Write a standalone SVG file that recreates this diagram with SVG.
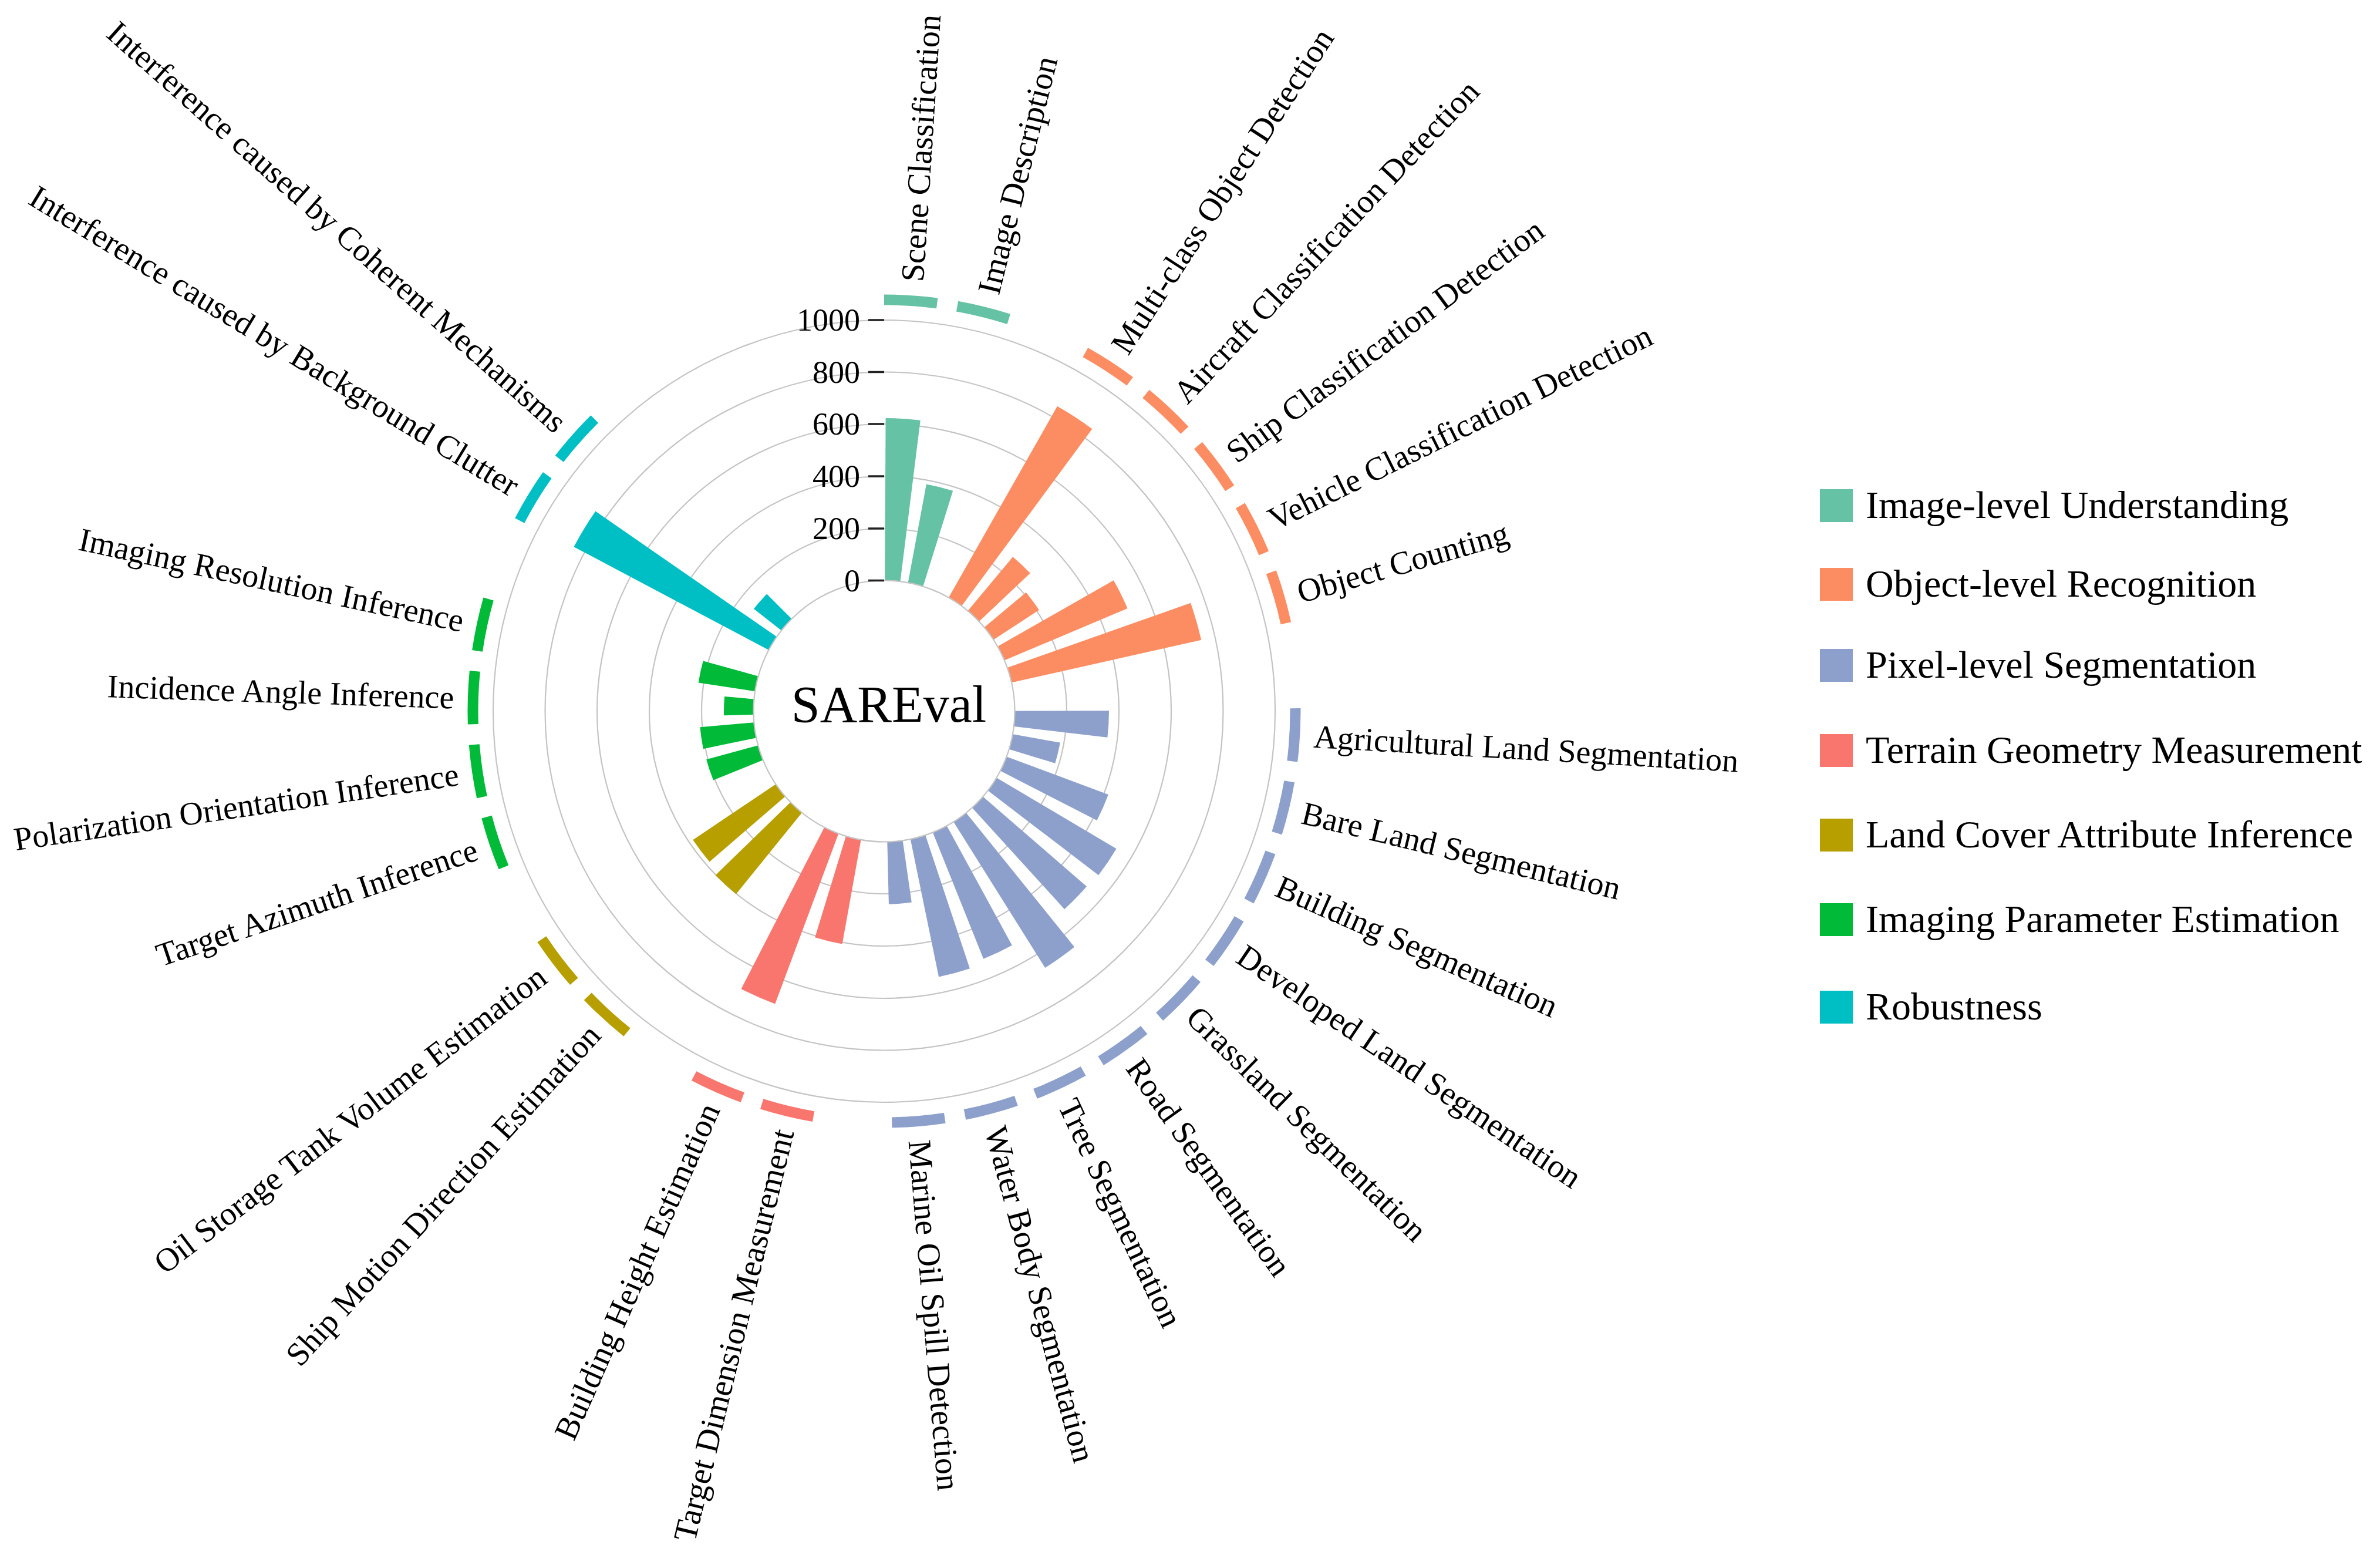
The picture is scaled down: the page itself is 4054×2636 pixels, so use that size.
<svg xmlns="http://www.w3.org/2000/svg" width="4054" height="2636" viewBox="0 0 4054 2636">
<style>
text { font-family: "Liberation Serif", "Times New Roman", serif; fill: #000; }
.lbl { font-size: 56px; }
.lbl.r { text-anchor: start; }
.lbl.l { text-anchor: end; }
.ax { font-size: 54px; text-anchor: end; }
.leg { font-size: 66px; }
.title { font-size: 88px; text-anchor: middle; }
.grid { fill: none; stroke: #c4c4c4; stroke-width: 2.2; }
.hub { fill: #ffffff; stroke: #c4c4c4; stroke-width: 2.2; }
.tick { stroke: #222; stroke-width: 3.5; }
.seg { fill: none; stroke-width: 18; }
.c0 { fill: #66c2a5; } .s0 { stroke: #66c2a5; }
.c1 { fill: #fc8d62; } .s1 { stroke: #fc8d62; }
.c2 { fill: #8da0cb; } .s2 { stroke: #8da0cb; }
.c3 { fill: #f8766d; } .s3 { stroke: #f8766d; }
.c4 { fill: #b79f00; } .s4 { stroke: #b79f00; }
.c5 { fill: #00ba38; } .s5 { stroke: #00ba38; }
.c6 { fill: #00bfc4; } .s6 { stroke: #00bfc4; }
</style>
<defs>
<path id="wedge" d="M0 0 L-0.059306 -0.99824 A1 1 0 0 1 0.059306 -0.99824 Z"/>
<path id="arcseg" d="M-45.20 -699.04 A700.5 700.5 0 0 1 45.20 -699.04"/>
</defs>
<rect width="4054" height="2636" fill="#ffffff"/>

<g id="grid">
<circle class="grid" cx="1506" cy="1211" r="311"/>
<circle class="grid" cx="1506" cy="1211" r="400"/>
<circle class="grid" cx="1506" cy="1211" r="489"/>
<circle class="grid" cx="1506" cy="1211" r="577.5"/>
<circle class="grid" cx="1506" cy="1211" r="666"/>
</g>

<g id="bars">
<use href="#wedge" class="c0" transform="translate(1506 1211) rotate(3.7) scale(499.1)"/>
<use href="#wedge" class="c0" transform="translate(1506 1211) rotate(13.94) scale(393.2)"/>
<use href="#wedge" class="c1" transform="translate(1506 1211) rotate(33.0) scale(597.1)"/>
<use href="#wedge" class="c1" transform="translate(1506 1211) rotate(43.24) scale(342.2)"/>
<use href="#wedge" class="c1" transform="translate(1506 1211) rotate(53.48) scale(315.1)"/>
<use href="#wedge" class="c1" transform="translate(1506 1211) rotate(63.72) scale(449.9)"/>
<use href="#wedge" class="c1" transform="translate(1506 1211) rotate(73.96) scale(553.6)"/>
<use href="#wedge" class="c2" transform="translate(1506 1211) rotate(93.3) scale(383.0)"/>
<use href="#wedge" class="c2" transform="translate(1506 1211) rotate(103.54) scale(304.5)"/>
<use href="#wedge" class="c2" transform="translate(1506 1211) rotate(113.78) scale(407.4)"/>
<use href="#wedge" class="c2" transform="translate(1506 1211) rotate(124.02) scale(459.7)"/>
<use href="#wedge" class="c2" transform="translate(1506 1211) rotate(134.26) scale(456.1)"/>
<use href="#wedge" class="c2" transform="translate(1506 1211) rotate(144.5) scale(516.0)"/>
<use href="#wedge" class="c2" transform="translate(1506 1211) rotate(154.74) scale(454.3)"/>
<use href="#wedge" class="c2" transform="translate(1506 1211) rotate(164.98) scale(461.9)"/>
<use href="#wedge" class="c2" transform="translate(1506 1211) rotate(175.22) scale(328.9)"/>
<use href="#wedge" class="c3" transform="translate(1506 1211) rotate(193.6) scale(402.9)"/>
<use href="#wedge" class="c3" transform="translate(1506 1211) rotate(203.84) scale(531.9)"/>
<use href="#wedge" class="c4" transform="translate(1506 1211) rotate(222.4) scale(400.7)"/>
<use href="#wedge" class="c4" transform="translate(1506 1211) rotate(232.64) scale(392.7)"/>
<use href="#wedge" class="c5" transform="translate(1506 1211) rotate(251.4) scale(313.8)"/>
<use href="#wedge" class="c5" transform="translate(1506 1211) rotate(261.64) scale(314.7)"/>
<use href="#wedge" class="c5" transform="translate(1506 1211) rotate(271.88) scale(273.0)"/>
<use href="#wedge" class="c5" transform="translate(1506 1211) rotate(282.12) scale(320.0)"/>
<use href="#wedge" class="c6" transform="translate(1506 1211) rotate(301.3) scale(598.0)"/>
<use href="#wedge" class="c6" transform="translate(1506 1211) rotate(311.54) scale(282.3)"/>
</g>

<g id="hub">
<circle class="hub" cx="1506" cy="1211" r="222.5"/>
<text class="title" x="1514" y="1229">SAREval</text>
</g>

<g id="axis">
<line class="tick" x1="1479" y1="988.5" x2="1506" y2="988.5"/>
<line class="tick" x1="1479" y1="900" x2="1506" y2="900"/>
<line class="tick" x1="1479" y1="811" x2="1506" y2="811"/>
<line class="tick" x1="1479" y1="722" x2="1506" y2="722"/>
<line class="tick" x1="1479" y1="633.5" x2="1506" y2="633.5"/>
<line class="tick" x1="1479" y1="545" x2="1506" y2="545"/>
<text class="ax" x="1465" y="1006.5">0</text>
<text class="ax" x="1465" y="918">200</text>
<text class="ax" x="1465" y="829">400</text>
<text class="ax" x="1465" y="740">600</text>
<text class="ax" x="1465" y="651.5">800</text>
<text class="ax" x="1465" y="563">1000</text>
</g>

<g id="ring">
<use href="#arcseg" class="seg s0" transform="translate(1506 1211) rotate(3.7)"/>
<use href="#arcseg" class="seg s0" transform="translate(1506 1211) rotate(13.94)"/>
<use href="#arcseg" class="seg s1" transform="translate(1506 1211) rotate(33.0)"/>
<use href="#arcseg" class="seg s1" transform="translate(1506 1211) rotate(43.24)"/>
<use href="#arcseg" class="seg s1" transform="translate(1506 1211) rotate(53.48)"/>
<use href="#arcseg" class="seg s1" transform="translate(1506 1211) rotate(63.72)"/>
<use href="#arcseg" class="seg s1" transform="translate(1506 1211) rotate(73.96)"/>
<use href="#arcseg" class="seg s2" transform="translate(1506 1211) rotate(93.3)"/>
<use href="#arcseg" class="seg s2" transform="translate(1506 1211) rotate(103.54)"/>
<use href="#arcseg" class="seg s2" transform="translate(1506 1211) rotate(113.78)"/>
<use href="#arcseg" class="seg s2" transform="translate(1506 1211) rotate(124.02)"/>
<use href="#arcseg" class="seg s2" transform="translate(1506 1211) rotate(134.26)"/>
<use href="#arcseg" class="seg s2" transform="translate(1506 1211) rotate(144.5)"/>
<use href="#arcseg" class="seg s2" transform="translate(1506 1211) rotate(154.74)"/>
<use href="#arcseg" class="seg s2" transform="translate(1506 1211) rotate(164.98)"/>
<use href="#arcseg" class="seg s2" transform="translate(1506 1211) rotate(175.22)"/>
<use href="#arcseg" class="seg s3" transform="translate(1506 1211) rotate(193.6)"/>
<use href="#arcseg" class="seg s3" transform="translate(1506 1211) rotate(203.84)"/>
<use href="#arcseg" class="seg s4" transform="translate(1506 1211) rotate(222.4)"/>
<use href="#arcseg" class="seg s4" transform="translate(1506 1211) rotate(232.64)"/>
<use href="#arcseg" class="seg s5" transform="translate(1506 1211) rotate(251.4)"/>
<use href="#arcseg" class="seg s5" transform="translate(1506 1211) rotate(261.64)"/>
<use href="#arcseg" class="seg s5" transform="translate(1506 1211) rotate(271.88)"/>
<use href="#arcseg" class="seg s5" transform="translate(1506 1211) rotate(282.12)"/>
<use href="#arcseg" class="seg s6" transform="translate(1506 1211) rotate(301.3)"/>
<use href="#arcseg" class="seg s6" transform="translate(1506 1211) rotate(311.54)"/>
</g>

<g id="labels">
<text class="lbl r" transform="translate(1506 1211) rotate(-86.3)" x="733" dy="0.35em">Scene Classification</text>
<text class="lbl r" transform="translate(1506 1211) rotate(-76.06)" x="733" dy="0.35em">Image Description</text>
<text class="lbl r" transform="translate(1506 1211) rotate(-57)" x="733" dy="0.35em">Multi-class Object Detection</text>
<text class="lbl r" transform="translate(1506 1211) rotate(-46.76)" x="733" dy="0.35em">Aircraft Classification Detection</text>
<text class="lbl r" transform="translate(1506 1211) rotate(-36.52)" x="733" dy="0.35em">Ship Classification Detection</text>
<text class="lbl r" transform="translate(1506 1211) rotate(-26.28)" x="733" dy="0.35em">Vehicle Classification Detection</text>
<text class="lbl r" transform="translate(1506 1211) rotate(-16.04)" x="733" dy="0.35em">Object Counting</text>
<text class="lbl r" transform="translate(1506 1211) rotate(3.3)" x="733" dy="0.35em">Agricultural Land Segmentation</text>
<text class="lbl r" transform="translate(1506 1211) rotate(13.54)" x="733" dy="0.35em">Bare Land Segmentation</text>
<text class="lbl r" transform="translate(1506 1211) rotate(23.78)" x="733" dy="0.35em">Building Segmentation</text>
<text class="lbl r" transform="translate(1506 1211) rotate(34.02)" x="733" dy="0.35em">Developed Land Segmentation</text>
<text class="lbl r" transform="translate(1506 1211) rotate(44.26)" x="733" dy="0.35em">Grassland Segmentation</text>
<text class="lbl r" transform="translate(1506 1211) rotate(54.5)" x="733" dy="0.35em">Road Segmentation</text>
<text class="lbl r" transform="translate(1506 1211) rotate(64.74)" x="733" dy="0.35em">Tree Segmentation</text>
<text class="lbl r" transform="translate(1506 1211) rotate(74.98)" x="733" dy="0.35em">Water Body Segmentation</text>
<text class="lbl r" transform="translate(1506 1211) rotate(85.22)" x="733" dy="0.35em">Marine Oil Spill Detection</text>
<text class="lbl l" transform="translate(1506 1211) rotate(283.6)" x="-733" dy="0.35em">Target Dimension Measurement</text>
<text class="lbl l" transform="translate(1506 1211) rotate(293.84)" x="-733" dy="0.35em">Building Height Estimation</text>
<text class="lbl l" transform="translate(1506 1211) rotate(312.4)" x="-733" dy="0.35em">Ship Motion Direction Estimation</text>
<text class="lbl l" transform="translate(1506 1211) rotate(322.64)" x="-733" dy="0.35em">Oil Storage Tank Volume Estimation</text>
<text class="lbl l" transform="translate(1506 1211) rotate(341.4)" x="-733" dy="0.35em">Target Azimuth Inference</text>
<text class="lbl l" transform="translate(1506 1211) rotate(351.64)" x="-733" dy="0.35em">Polarization Orientation Inference</text>
<text class="lbl l" transform="translate(1506 1211) rotate(1.88)" x="-733" dy="0.35em">Incidence Angle Inference</text>
<text class="lbl l" transform="translate(1506 1211) rotate(12.12)" x="-733" dy="0.35em">Imaging Resolution Inference</text>
<text class="lbl l" transform="translate(1506 1211) rotate(31.3)" x="-733" dy="0.35em">Interference caused by Background Clutter</text>
<text class="lbl l" transform="translate(1506 1211) rotate(41.54)" x="-733" dy="0.35em">Interference caused by Coherent Mechanisms</text>
</g>

<g id="legend">
<g id="legend-image"><rect class="c0" x="3100" y="833" width="56" height="56"/><text class="leg" x="3178" y="882">Image-level Understanding</text></g>
<g id="legend-object"><rect class="c1" x="3100" y="967" width="56" height="56"/><text class="leg" x="3178" y="1016">Object-level Recognition</text></g>
<g id="legend-pixel"><rect class="c2" x="3100" y="1105" width="56" height="56"/><text class="leg" x="3178" y="1154">Pixel-level Segmentation</text></g>
<g id="legend-terrain"><rect class="c3" x="3100" y="1250" width="56" height="56"/><text class="leg" x="3178" y="1299">Terrain Geometry Measurement</text></g>
<g id="legend-landcover"><rect class="c4" x="3100" y="1394" width="56" height="56"/><text class="leg" x="3178" y="1443">Land Cover Attribute Inference</text></g>
<g id="legend-imaging"><rect class="c5" x="3100" y="1538" width="56" height="56"/><text class="leg" x="3178" y="1587">Imaging Parameter Estimation</text></g>
<g id="legend-robust"><rect class="c6" x="3100" y="1687" width="56" height="56"/><text class="leg" x="3178" y="1736">Robustness</text></g>
</g>
</svg>
